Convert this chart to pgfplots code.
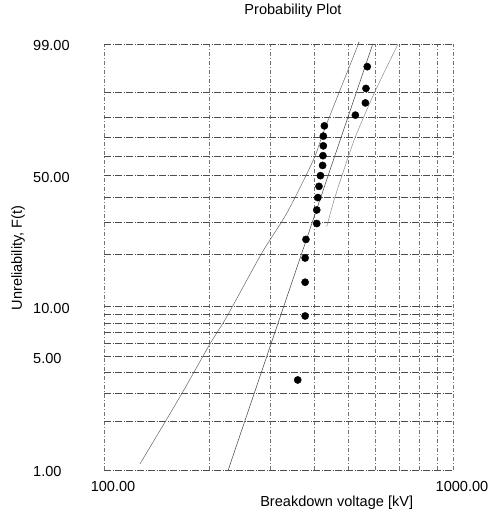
\documentclass[border=0pt]{standalone}
\usepackage{pgfplots}
\usepackage{pgfplotstable}
\pgfplotsset{compat=1.18}
\usepackage{fontspec}
\setmainfont{Liberation Sans}

\begin{document}
\begin{tikzpicture}
% failure data: voltage [kV], median rank F [%]
\pgfplotstableread{
V F
359 3.6
377 8.8
377 13.9
377 19.1
379 24.2
407 29.4
407 34.5
410 39.7
413 44.8
417 50.0
423 55.2
424 60.3
425 65.5
425 70.6
428 75.8
525 80.9
561 86.1
563 91.2
568 96.4
}\points
\pgfplotstableread{
V F
227 1
589 99
}\fitline
\pgfplotstableread{
V F
126.8 1.09
165.1 2.84
200.3 5.88
224.7 8.70
283.1 20.3
333.8 33.2
397.9 58.0
429.8 74.7
529.9 98.7
534.4 99
}\lowbound
\pgfplotstableread{
V F
695.7 99
597.6 90.2
529.9 72.0
501.2 59.7
459.1 40.0
434.6 28.3
}\upbound

\begin{axis}[
  at={(104bp,44bp)}, anchor=south west,
  scale only axis, width=349bp, height=426bp,
  xmode=log, xmin=100, xmax=1000,
  ymin=-4.60015, ymax=1.52718,
  axis line style={draw=none},
  major tick length=0pt,
  xtick={100,200,300,400,500,600,700,800,900,1000},
  xticklabels={100.00,,,,,,,,,1000.00},
  ytick={-4.60015,-3.90194,-3.49137,-3.19853,-2.97020,-2.78263,-2.62319,-2.48433,-2.36116,-2.25037,-1.49994,-1.03093,-0.67173,-0.36651,-0.08742,0.18563,0.47588,0.83403,1.52718},
  yticklabels={1.00,,,,5.00,,,,,10.00,,,,50.00,,,,,99.00},
  grid=major,
  x grid style={black!55, line width=0.5bp, dash pattern=on 4bp off 2bp on 1bp off 2bp},
  y grid style={black!70, line width=0.55bp, dash pattern=on 7bp off 1.5bp on 1bp off 1.5bp},
  ticklabel style={font=\fontsize{14.6}{17}\selectfont},
  xticklabel style={inner sep=0pt, anchor=north, xshift=9bp, yshift=-11bp},
  yticklabel style={inner sep=0pt, anchor=west, xshift=-71bp, yshift=-1.5bp},
  /pgf/number format/assume math mode=true,
  clip=false,
]
\addplot[black!60, line width=0.5bp, smooth, tension=0.5]
  table[x=V, y expr={ln(-ln(1-\thisrow{F}/100))}] {\lowbound};
\addplot[black!45, line width=0.5bp, smooth, tension=0.5]
  table[x=V, y expr={ln(-ln(1-\thisrow{F}/100))}] {\upbound};
\addplot[black!70, line width=0.55bp]
  table[x=V, y expr={ln(-ln(1-\thisrow{F}/100))}] {\fitline};
\addplot[only marks, mark=*, mark size=3.6bp, black]
  table[x=V, y expr={ln(-ln(1-\thisrow{F}/100))}] {\points};
\end{axis}

\node[font=\fontsize{14.6}{17}\selectfont] at (293bp,503bp) {Probability Plot};
\node[font=\fontsize{14.6}{17}\selectfont] at (336.7bp,11bp) {Breakdown voltage [kV]};
\node[font=\fontsize{14.6}{17}\selectfont, rotate=90] at (18bp,256bp) {Unreliability, F(t)};

\pgfresetboundingbox
\path (0,0) rectangle (493bp,514bp);
\end{tikzpicture}
\end{document}
